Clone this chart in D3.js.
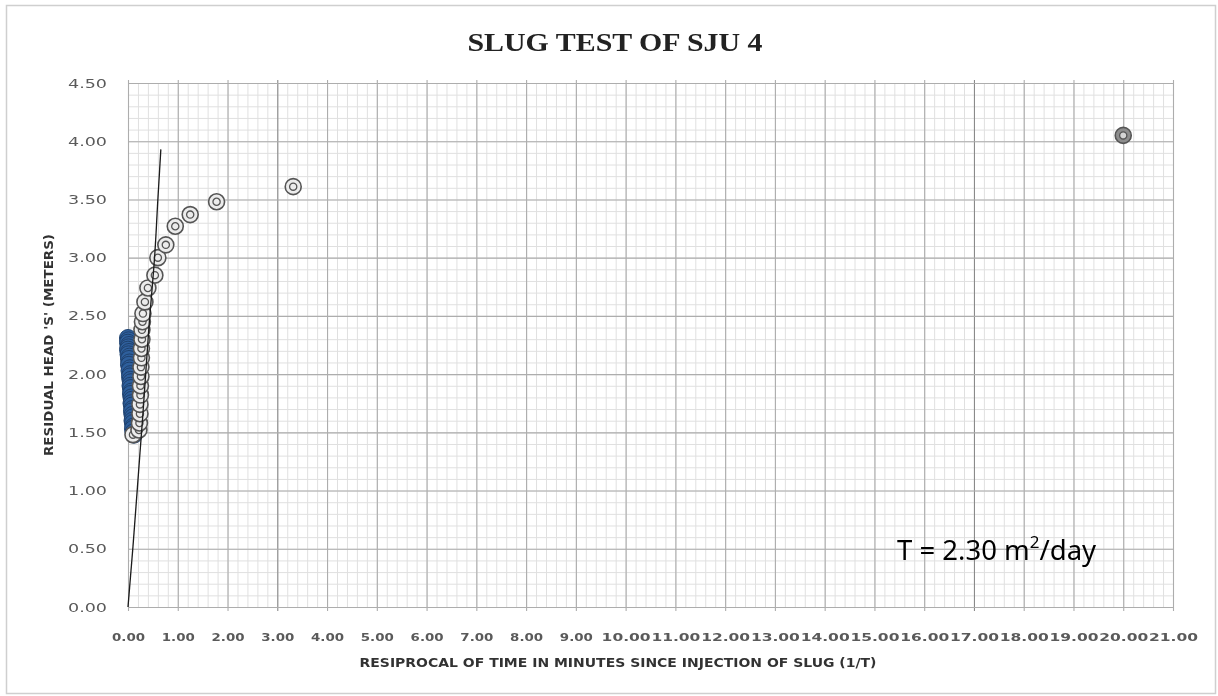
<!DOCTYPE html>
<html>
<head>
<meta charset="utf-8">
<script src="https://cdn.jsdelivr.net/npm/d3@7/dist/d3.min.js"></script>
<style>
  html, body { margin: 0; padding: 0; background: #ffffff; }
  svg { display: block; }
</style>
</head>
<body>
<svg id="chart" width="1218" height="696"></svg>
<script>
// Slug test recovery readings: residual head vs reciprocal of elapsed time
const chartTitle = "SLUG TEST OF SJU 4";
const xTitle = "RESIPROCAL OF TIME IN MINUTES SINCE INJECTION OF SLUG (1/T)";
const yTitle = "RESIDUAL HEAD 'S' (METERS)";
const noteMain = "T = 2.30 m";
const noteSup = "2";
const noteTail = "/day";

const xTicks = d3.range(0, 22, 1);          // 0.00 … 21.00
const yTicks = d3.range(0, 4.51, 0.5);      // 0.00 … 4.50

// Late-time readings (filled blue markers)
const lateX = [0.00,0.01,0.00,0.02,0.01,0.00,0.02,0.01,0.03,0.02,0.03,0.02,0.04,0.03,0.05,0.04,0.05,0.06,
               0.05,0.06,0.07,0.06,0.07,0.08,0.07,0.08,0.09,0.08,0.09,0.10,0.09,0.10,0.11,0.10,0.11,0.12];
const lateY = [2.31,2.29,2.27,2.25,2.23,2.21,2.19,2.17,2.15,2.13,2.10,2.08,2.05,2.03,2.00,1.98,1.95,1.93,
               1.90,1.88,1.85,1.83,1.80,1.78,1.75,1.73,1.70,1.68,1.65,1.63,1.60,1.58,1.55,1.53,1.50,1.48];

// Early-time readings (hollow grey markers)
const earlyX = [0.10,0.22,0.23,0.24,0.24,0.25,0.25,0.26,0.26,0.27,0.27,0.28,0.28,0.29,0.30,0.34,0.40,
                0.54,0.60,0.76,0.95,1.25,1.78,3.32,20.00];
const earlyY = [1.48,1.52,1.58,1.66,1.74,1.82,1.90,1.98,2.06,2.14,2.22,2.30,2.38,2.45,2.52,2.62,2.74,
                2.85,3.00,3.11,3.27,3.37,3.48,3.61,4.05];

// Straight-line fit drawn through the early-time points
const fitX = [0.00,0.10,0.24,0.29,0.42,0.54,0.60,0.66];
const fitY = [0.00,0.52,1.32,1.60,2.40,3.04,3.50,3.93];

const svg = d3.select("#chart");
const W = 1218, H = 696;
const plot = { left: 128, right: 1173, top: 83, bottom: 607 };

const x = d3.scaleLinear().domain([0, 21]).range([plot.left, plot.right]);
const y = d3.scaleLinear().domain([0, 4.5]).range([plot.bottom, plot.top]);

// soft focus for the chart body
const defs = svg.append("defs");
defs.append("filter").attr("id", "soft")
  .append("feGaussianBlur").attr("stdDeviation", 0.55);

svg.append("rect").attr("width", W).attr("height", H).attr("fill", "#ffffff");

// outer frame
svg.append("rect")
  .attr("x", 6.5).attr("y", 5.5).attr("width", 1209).attr("height", 688)
  .attr("fill", "none").attr("stroke", "#cfcfcf").attr("stroke-width", 1.5);

const body = svg.append("g").attr("filter", "url(#soft)");

// minor grid
const xMinor = d3.range(0, 21.001, 0.2);
const yMinor = d3.range(0, 4.501, 0.1);
body.append("g")
  .attr("transform", `translate(0,${plot.bottom})`)
  .call(d3.axisBottom(x).tickValues(xMinor).tickSize(-(plot.bottom - plot.top)).tickFormat(""))
  .call(g => g.select(".domain").remove())
  .call(g => g.selectAll("line").attr("stroke", "#e0e0e0").attr("stroke-width", 1));
body.append("g")
  .attr("transform", `translate(${plot.left},0)`)
  .call(d3.axisLeft(y).tickValues(yMinor).tickSize(-(plot.right - plot.left)).tickFormat(""))
  .call(g => g.select(".domain").remove())
  .call(g => g.selectAll("line").attr("stroke", "#e0e0e0").attr("stroke-width", 1));

// major grid
body.append("g")
  .attr("transform", `translate(0,${plot.bottom})`)
  .call(d3.axisBottom(x).tickValues(xTicks).tickSize(-(plot.bottom - plot.top) - 3).tickFormat(""))
  .call(g => g.select(".domain").remove())
  .call(g => g.selectAll("line").attr("stroke", d => (d === 3 || d === 17) ? "#8a8a8a" : "#adadad").attr("stroke-width", 1.1).attr("y1", 4));
body.append("g")
  .attr("transform", `translate(${plot.left},0)`)
  .call(d3.axisLeft(y).tickValues(yTicks).tickSize(-(plot.right - plot.left)).tickFormat(""))
  .call(g => g.select(".domain").remove())
  .call(g => g.selectAll("line").attr("stroke", "#adadad").attr("stroke-width", 1.1));

// tick labels
const xAxis = body.append("g")
  .attr("transform", `translate(0,${plot.bottom})`)
  .call(d3.axisBottom(x).tickValues(xTicks).tickSize(0).tickPadding(26).tickFormat(d3.format(".2f")));
xAxis.select(".domain").remove();
xAxis.selectAll("text")
  .attr("font-family", "'DejaVu Sans', sans-serif").attr("font-size", 11).attr("font-weight", "bold")
  .attr("fill", "#5a5a5a")
  .attr("textLength", d => d >= 10 ? 49 : 33).attr("lengthAdjust", "spacingAndGlyphs");

const yAxis = body.append("g")
  .attr("transform", `translate(${plot.left},0)`)
  .call(d3.axisLeft(y).tickValues(yTicks).tickSize(0).tickPadding(21).tickFormat(d3.format(".2f")));
yAxis.select(".domain").remove();
yAxis.selectAll("text")
  .attr("font-family", "'DejaVu Sans', sans-serif").attr("font-size", 12.5)
  .attr("fill", "#5a5a5a")
  .attr("textLength", 39).attr("lengthAdjust", "spacingAndGlyphs");

// titles
body.append("text")
  .attr("x", 615).attr("y", 51).attr("text-anchor", "middle")
  .attr("font-family", "'Liberation Serif', 'DejaVu Serif', serif").attr("font-weight", "bold")
  .attr("font-size", 25).attr("fill", "#222222")
  .attr("textLength", 295).attr("lengthAdjust", "spacingAndGlyphs")
  .text(chartTitle);

body.append("text")
  .attr("x", 618).attr("y", 667).attr("text-anchor", "middle")
  .attr("font-family", "'DejaVu Sans', sans-serif").attr("font-weight", "bold")
  .attr("font-size", 12.5).attr("fill", "#333333")
  .attr("textLength", 517).attr("lengthAdjust", "spacingAndGlyphs")
  .text(xTitle);

body.append("text")
  .attr("transform", "translate(53,345) rotate(-90)").attr("text-anchor", "middle")
  .attr("font-family", "'DejaVu Sans', sans-serif").attr("font-weight", "bold")
  .attr("font-size", 12.5).attr("fill", "#333333")
  .attr("textLength", 222).attr("lengthAdjust", "spacingAndGlyphs")
  .text(yTitle);

// late-time points
const late = lateX.map((v, i) => [v, lateY[i]]);
body.append("g").selectAll("circle").data(late).join("circle")
  .attr("cx", d => x(d[0])).attr("cy", d => y(d[1])).attr("r", 8.5)
  .attr("fill", "#2f5f9c").attr("stroke", "#1f416e").attr("stroke-width", 1);

// early-time points: ringed markers
const early = earlyX.map((v, i) => [v, earlyY[i]]);
const em = body.append("g").selectAll("g").data(early).join("g")
  .attr("transform", d => `translate(${x(d[0])},${y(d[1])})`);
em.append("circle").attr("r", 8)
  .attr("fill", d => d[0] > 10 ? "#8d8d8d" : "#ececec")
  .attr("stroke", "#555555").attr("stroke-width", 1.6);
em.append("circle").attr("r", 3.6)
  .attr("fill", d => d[0] > 10 ? "#d5d5d5" : "none")
  .attr("stroke", "#555555").attr("stroke-width", 1.3);

// fitted line
const fit = fitX.map((v, i) => [v, fitY[i]]);
body.append("path").datum(fit)
  .attr("d", d3.line().x(d => x(d[0])).y(d => y(d[1])).curve(d3.curveMonotoneY))
  .attr("fill", "none").attr("stroke", "#1a1a1a").attr("stroke-width", 1.3);

// transmissivity note (crisp)
const note = svg.append("text")
  .attr("x", 897).attr("y", 560)
  .attr("font-family", "'Noto Sans', 'Open Sans', sans-serif").attr("font-size", 27.5)
  .attr("fill", "#000000");
note.append("tspan").text(noteMain);
note.append("tspan").attr("font-size", 17).attr("dy", -12).text(noteSup);
note.append("tspan").attr("dy", 12).text(noteTail);
</script>
</body>
</html>
